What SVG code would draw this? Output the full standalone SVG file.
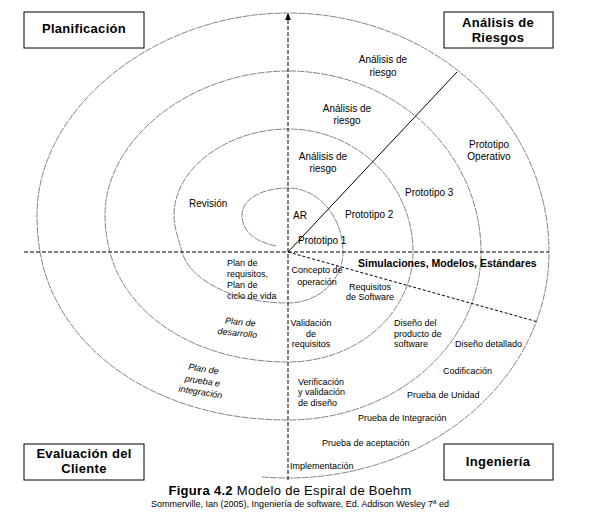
<svg xmlns="http://www.w3.org/2000/svg" width="591" height="532" viewBox="0 0 591 532">
<style>
.bg{fill:#fff}
.box{fill:#fff;stroke:#000;stroke-width:1}
.bt{font-family:"Liberation Sans",Arial,sans-serif;font-weight:bold;font-size:13px;fill:#000;text-anchor:middle;letter-spacing:0.3px}
.t{font-family:"Liberation Sans",Arial,sans-serif;font-size:10px;fill:#000}
.s{font-family:"Liberation Sans",Arial,sans-serif;font-size:9px;fill:#000}
.c{text-anchor:middle}
.it{font-family:"Liberation Sans",Arial,sans-serif;font-size:9px;font-style:italic;fill:#000;text-anchor:middle}
.spiral{fill:none;stroke:#666;stroke-width:0.8;stroke-dasharray:7 1}
.axis{fill:none;stroke:#000;stroke-width:1;stroke-dasharray:4 2}
.diag{fill:none;stroke:#000;stroke-width:1}
.ddiag{fill:none;stroke:#000;stroke-width:1;stroke-dasharray:3 2}
</style>
<defs>
<marker id="arr" markerWidth="8" markerHeight="8" refX="7" refY="4" orient="auto" markerUnits="userSpaceOnUse">
<path d="M0,1 L7,4 L0,7 Z" fill="#000"/>
</marker>
</defs>
<rect class="bg" x="0" y="0" width="591" height="532"/>

<g id="connectors">
<path id="spiral" class="spiral" d="M276,246 C256,242 242,232 242,215 C242,199 262,188 288,188 A55,64 0 0 1 343,252 A55,51 0 0 1 288,303 C230,303 189,278 182,252 C178,237 174,228 174,215 C174,168 228,129 288,129 A125,123 0 0 1 413,252 A125,110 0 0 1 288,362 C190,362 124,310 110,252 C107,240 105,229 105,215 C105,139 191,71 288,71 A193,181 0 0 1 481,252 A193,168 0 0 1 288,420 C151,420 56,345 40,252 C38,240 37,228 37,215 C37,108 155,13 288,13 A261,239 0 0 1 549,252 A261,226 0 0 1 288,478 A300,226 0 0 1 262,477"/>
<line class="axis" x1="24" y1="252" x2="549" y2="252"/>
<line class="axis" x1="288" y1="480" x2="288" y2="13" marker-end="url(#arr)"/>
<line class="diag" x1="288" y1="252" x2="457" y2="72"/>
<line class="ddiag" x1="288" y1="252" x2="538" y2="322"/>
</g>

<g id="planificacion">
<rect class="box" x="24" y="12" width="120" height="36"/>
<text class="bt" x="84" y="33">Planificación</text>
</g>
<g id="analisis-riesgos">
<rect class="box" x="444" y="12" width="109" height="36"/>
<text class="bt" x="498" y="27">Análisis de</text>
<text class="bt" x="498" y="42">Riesgos</text>
</g>
<g id="evaluacion-cliente">
<rect class="box" x="24" y="444" width="120" height="36"/>
<text class="bt" x="84" y="458">Evaluación del</text>
<text class="bt" x="84" y="473">Cliente</text>
</g>
<g id="ingenieria">
<rect class="box" x="444" y="444" width="109" height="36"/>
<text class="bt" x="498" y="466">Ingeniería</text>
</g>

<g id="riesgo-labels">
<text class="t c" x="383" y="63">Análisis de</text>
<text class="t c" x="383" y="76">riesgo</text>
<text class="t c" x="347" y="112">Análisis de</text>
<text class="t c" x="347" y="124">riesgo</text>
<text class="t c" x="323" y="160">Análisis de</text>
<text class="t c" x="323" y="172">riesgo</text>
<text class="t" x="293" y="219">AR</text>
</g>
<g id="prototipo-labels">
<text class="t" x="298" y="244">Prototipo 1</text>
<text class="t" x="345" y="218">Prototipo 2</text>
<text class="t" x="405" y="196">Prototipo 3</text>
<text class="t c" x="489" y="148">Prototipo</text>
<text class="t c" x="489" y="160">Operativo</text>
</g>
<g id="revision">
<text class="t" x="189" y="207">Revisión</text>
</g>
<g id="simulaciones">
<text x="358" y="267" style="font-family:'Liberation Sans',Arial,sans-serif;font-weight:bold;font-size:10.5px">Simulaciones, Modelos, Estándares</text>
</g>
<g id="plan-requisitos">
<text class="s" x="227" y="266">Plan de</text>
<text class="s" x="227" y="277">requisitos,</text>
<text class="s" x="227" y="288">Plan de</text>
<text class="s" x="227" y="299">ciclo de vida</text>
</g>
<g id="plan-desarrollo">
<text class="it" transform="translate(240,325) rotate(6)">Plan de</text>
<text class="it" transform="translate(237,336) rotate(6)">desarrollo</text>
</g>
<g id="plan-prueba">
<text class="it" transform="translate(203,372) rotate(9)">Plan de</text>
<text class="it" transform="translate(202,384) rotate(9)">prueba e</text>
<text class="it" transform="translate(200,395) rotate(9)">integración</text>
</g>
<g id="ingenieria-labels">
<text class="s c" x="317" y="273">Concepto de</text>
<text class="s c" x="317" y="285">operación</text>
<text class="s c" x="370" y="290">Requisitos</text>
<text class="s c" x="370" y="300">de Software</text>
<text class="s c" x="311" y="326">Validación</text>
<text class="s c" x="311" y="337">de</text>
<text class="s c" x="311" y="347">requisitos</text>
<text class="s" x="394" y="326">Diseño del</text>
<text class="s" x="394" y="337">producto de</text>
<text class="s" x="394" y="347">software</text>
<text class="s" x="455" y="347">Diseño detallado</text>
<text class="s" x="443" y="374">Codificación</text>
<text class="s" x="298" y="385">Verificación</text>
<text class="s" x="298" y="395">y validación</text>
<text class="s" x="298" y="406">de diseño</text>
<text class="s" x="407" y="398">Prueba de Unidad</text>
<text class="s" x="358" y="421">Prueba de Integración</text>
<text class="s" x="322" y="446">Prueba de aceptación</text>
<text class="s" x="290" y="469">Implementación</text>
</g>
<g id="caption">
<text x="290" y="495" style="font-family:'Liberation Sans',Arial,sans-serif;font-size:13px;text-anchor:middle;letter-spacing:0.3px"><tspan font-weight="bold">Figura 4.2</tspan> Modelo de Espiral de Boehm</text>
<text x="300" y="507" style="font-family:'Liberation Sans',Arial,sans-serif;font-size:9px;text-anchor:middle">Sommerville, Ian (2005), Ingeniería de software, Ed. Addison Wesley 7ª ed</text>
</g>
</svg>
